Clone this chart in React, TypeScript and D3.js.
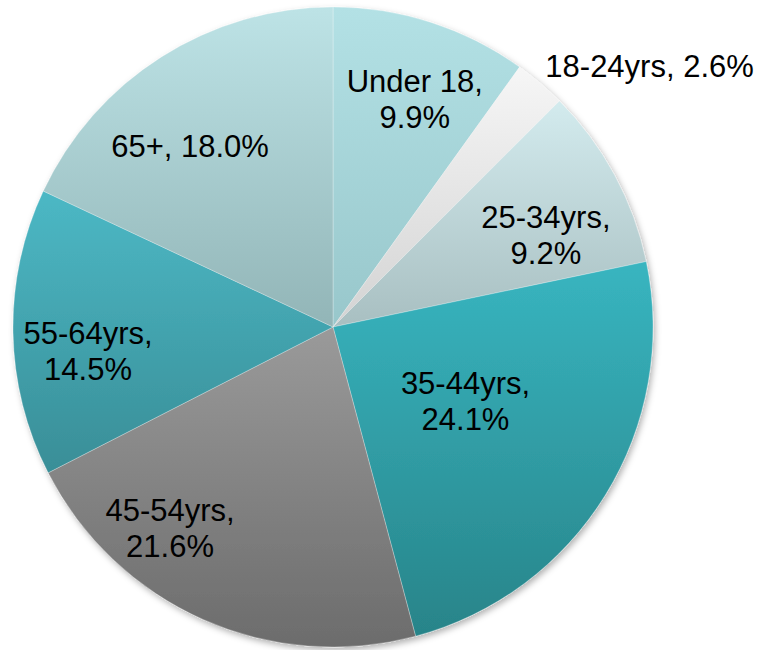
import React, { useEffect, useRef } from 'react';
import * as d3 from 'd3';

const categories = ['Under 18', '18-24yrs', '25-34yrs', '35-44yrs', '45-54yrs', '55-64yrs', '65+'];
const shares = [9.9, 2.6, 9.2, 24.1, 21.6, 14.5, 18.0];
// light (top) / dark (bottom) colour of each slice's gradient
const topColors = ['#b3e1e5', '#f6f6f6', '#d3ebee', '#38b5c0', '#9a9a9a', '#4cb8c5', '#bde3e6'];
const bottomColors = ['#98c7cb', '#d3d3d3', '#a8bfc1', '#288489', '#6c6c6c', '#398e97', '#92b5b7'];

// label nudges from the slice centroid (px), and how each label wraps
const labelNudge: Record<string, [number, number]> = {
  'Under 18': [23, -45],
  '18-24yrs': [88, -115],
  '25-34yrs': [44, -1],
  '35-44yrs': [-31, -27],
  '45-54yrs': [-85, 26],
  '55-64yrs': [-53, 21],
  '65+': [-40, -19],
};
const oneLine = ['18-24yrs', '65+'];

export default function App() {
  const ref = useRef<SVGSVGElement>(null);

  useEffect(() => {
    const width = 761;
    const height = 650;
    const cx = 333;
    const cy = 327;
    const radius = 320;
    const fontSize = 31;
    const lineH = 36;

    const svg = d3.select(ref.current);
    svg.selectAll('*').remove();

    const data = categories.map((c, i) => ({ name: c, value: shares[i], i }));

    const defs = svg.append('defs');
    const shadow = defs.append('filter').attr('id', 'pie-shadow').attr('x', '-10%').attr('y', '-10%').attr('width', '120%').attr('height', '120%');
    shadow
      .append('feDropShadow')
      .attr('dx', 2)
      .attr('dy', 3)
      .attr('stdDeviation', 3)
      .attr('flood-color', '#000')
      .attr('flood-opacity', 0.3);

    data.forEach((d) => {
      const g = defs
        .append('linearGradient')
        .attr('id', 'grad-' + d.i)
        .attr('x1', 0)
        .attr('y1', 0)
        .attr('x2', 0)
        .attr('y2', 1);
      g.append('stop').attr('offset', '0%').attr('stop-color', topColors[d.i]);
      g.append('stop').attr('offset', '100%').attr('stop-color', bottomColors[d.i]);
    });

    const pie = d3
      .pie<any>()
      .value((d) => d.value)
      .sort(null);
    const arcs = pie(data);

    const arc = d3.arc<any>().innerRadius(0).outerRadius(radius);
    const labelArc = d3.arc<any>().innerRadius(radius * 0.6).outerRadius(radius * 0.6);

    const chart = svg.append('g').attr('transform', 'translate(' + cx + ',' + cy + ')');

    chart
      .append('g')
      .attr('filter', 'url(#pie-shadow)')
      .selectAll('path')
      .data(arcs)
      .enter()
      .append('path')
      .attr('d', arc)
      .style('fill', (d) => 'url(#grad-' + d.data.i + ')')
      .style('stroke', 'rgba(255,255,255,0.35)')
      .style('stroke-width', 0.8);

    const labels = chart
      .selectAll('text.label')
      .data(arcs)
      .enter()
      .append('text')
      .attr('class', 'label')
      .style('font-family', '"Liberation Sans", Arial, sans-serif')
      .style('font-size', fontSize + 'px')
      .style('fill', '#000')
      .attr('text-anchor', (d) => (d.data.name === '18-24yrs' ? 'start' : 'middle'));

    labels.each(function (d) {
      const [x0, y0] = labelArc.centroid(d);
      const [nx, ny] = labelNudge[d.data.name];
      const x = x0 + nx;
      const y = y0 + ny;
      const pct = d3.format('.1f')(d.data.value) + '%';
      const lines = oneLine.includes(d.data.name) ? [d.data.name + ', ' + pct] : [d.data.name + ',', pct];
      const t = d3.select(this);
      lines.forEach((line, k) => {
        t.append('tspan')
          .attr('x', x)
          .attr('y', y + 11 + (k - (lines.length - 1) / 2) * lineH)
          .text(line);
      });
    });

    svg.attr('width', width).attr('height', height);
  }, []);

  return (
    <svg
      ref={ref}
      width={761}
      height={650}
      style={{ position: 'absolute', left: 0, top: 0, background: '#fff' }}
    />
  );
}
